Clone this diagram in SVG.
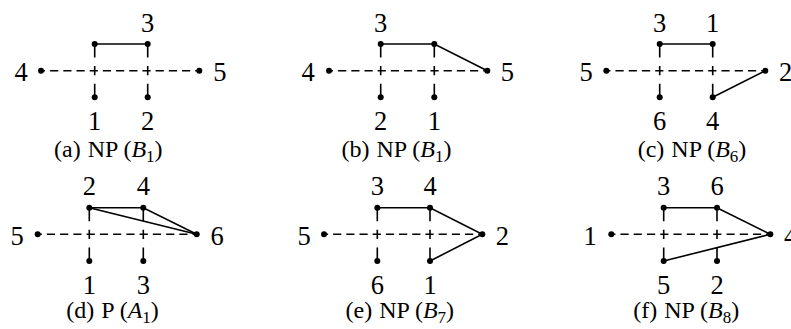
<svg xmlns="http://www.w3.org/2000/svg" width="791" height="329" viewBox="0 0 791 329">
<style>
.dot{fill:#000}
.lab{font-family:"Liberation Serif","DejaVu Serif",serif;font-size:26.5px;fill:#000;text-anchor:middle}
.cap{font-family:"Liberation Serif","DejaVu Serif",serif;font-size:24px;fill:#000;text-anchor:middle}
.sub{font-size:17px}
.h{stroke:#000;stroke-width:1.6;fill:none;stroke-dasharray:0.62 0.38;stroke-dashoffset:0.31}
.v{stroke:#000;stroke-width:1.6;fill:none;stroke-dasharray:13.5 8.5 9.3 8.5 13.5}
.e{stroke:#000;stroke-width:1.6;fill:none}
</style>
<rect width="791" height="329" fill="#fff"/>

<!-- (a) -->
<g id="panel-a">
<g id="a-connectors">
<path class="h" pathLength="12" d="M41 70.7H199.3"/>
<path class="v" d="M94.7 44V97.3"/>
<path class="v" d="M147.7 44V97.3"/>
<path class="e" d="M94.7 44H147.7"/>
</g>
<g id="a-n4"><circle class="dot" cx="41" cy="70.7" r="3"/><text class="lab" x="21" y="80.7">4</text></g>
<g id="a-n5"><circle class="dot" cx="199.3" cy="70.7" r="3"/><text class="lab" x="219.8" y="80.7">5</text></g>
<g id="a-ntl"><circle class="dot" cx="94.7" cy="44" r="3"/></g>
<g id="a-n3"><circle class="dot" cx="147.7" cy="44" r="3"/><text class="lab" x="147.7" y="31.7">3</text></g>
<g id="a-n1"><circle class="dot" cx="94.7" cy="97.3" r="3"/><text class="lab" x="94.7" y="130">1</text></g>
<g id="a-n2"><circle class="dot" cx="147.7" cy="97.3" r="3"/><text class="lab" x="147.7" y="130">2</text></g>
<text class="cap" x="108.3" y="156.7">(a)<tspan dx="7">NP (</tspan><tspan font-style="italic">B</tspan><tspan class="sub" dy="5">1</tspan><tspan dy="-5">)</tspan></text>
</g>

<!-- (b) -->
<g id="panel-b">
<g id="b-connectors">
<path class="h" pathLength="12" d="M329 70.7H487.3"/>
<path class="v" d="M380.7 44V97.3"/>
<path class="v" d="M434.3 44V97.3"/>
<path class="e" d="M380.7 44H434.3L487.3 70.7"/>
</g>
<g id="b-n4"><circle class="dot" cx="329" cy="70.7" r="3"/><text class="lab" x="308" y="80.7">4</text></g>
<g id="b-n5"><circle class="dot" cx="487.3" cy="70.7" r="3"/><text class="lab" x="507.3" y="80.7">5</text></g>
<g id="b-n3"><circle class="dot" cx="380.7" cy="44" r="3"/><text class="lab" x="380.7" y="31.7">3</text></g>
<g id="b-ntr"><circle class="dot" cx="434.3" cy="44" r="3"/></g>
<g id="b-n2"><circle class="dot" cx="380.7" cy="97.3" r="3"/><text class="lab" x="380.7" y="130">2</text></g>
<g id="b-n1"><circle class="dot" cx="434.3" cy="97.3" r="3"/><text class="lab" x="434.3" y="130">1</text></g>
<text class="cap" x="396.5" y="156.7">(b)<tspan dx="7">NP (</tspan><tspan font-style="italic">B</tspan><tspan class="sub" dy="5">1</tspan><tspan dy="-5">)</tspan></text>
</g>

<!-- (c) -->
<g id="panel-c">
<g id="c-connectors">
<path class="h" pathLength="12" d="M606.3 70.7H765.3"/>
<path class="v" d="M659.7 44V97.3"/>
<path class="v" d="M712.7 44V97.3"/>
<path class="e" d="M659.7 44H712.7"/>
<path class="e" d="M712.7 97.3L765.3 70.7"/>
</g>
<g id="c-n5"><circle class="dot" cx="606.3" cy="70.7" r="3"/><text class="lab" x="586" y="80.7">5</text></g>
<g id="c-n2"><circle class="dot" cx="765.3" cy="70.7" r="3"/><text class="lab" x="785.5" y="80.7">2</text></g>
<g id="c-n3"><circle class="dot" cx="659.7" cy="44" r="3"/><text class="lab" x="659.7" y="31.7">3</text></g>
<g id="c-n1"><circle class="dot" cx="712.7" cy="44" r="3"/><text class="lab" x="712.7" y="31.7">1</text></g>
<g id="c-n6"><circle class="dot" cx="659.7" cy="97.3" r="3"/><text class="lab" x="659.7" y="130">6</text></g>
<g id="c-n4"><circle class="dot" cx="712.7" cy="97.3" r="3"/><text class="lab" x="712.7" y="130">4</text></g>
<text class="cap" x="692" y="156.7">(c)<tspan dx="7">NP (</tspan><tspan font-style="italic">B</tspan><tspan class="sub" dy="5">6</tspan><tspan dy="-5">)</tspan></text>
</g>

<!-- (d) -->
<g id="panel-d">
<g id="d-connectors">
<path class="h" pathLength="12" d="M37.7 234.3H196.7"/>
<path class="v" d="M89.3 207.7V261"/>
<path class="v" d="M143.3 207.7V261"/>
<path class="e" d="M89.3 207.7H143.3L196.7 234.3"/>
<path class="e" d="M89.3 207.7L196.7 234.3"/>
</g>
<g id="d-n5"><circle class="dot" cx="37.7" cy="234.3" r="3"/><text class="lab" x="17" y="244.8">5</text></g>
<g id="d-n6"><circle class="dot" cx="196.7" cy="234.3" r="3"/><text class="lab" x="217" y="244.8">6</text></g>
<g id="d-n2"><circle class="dot" cx="89.3" cy="207.7" r="3"/><text class="lab" x="89.3" y="195.2">2</text></g>
<g id="d-n4"><circle class="dot" cx="143.3" cy="207.7" r="3"/><text class="lab" x="143.3" y="195.2">4</text></g>
<g id="d-n1"><circle class="dot" cx="89.3" cy="261" r="3"/><text class="lab" x="89.3" y="293.5">1</text></g>
<g id="d-n3"><circle class="dot" cx="143.3" cy="261" r="3"/><text class="lab" x="143.3" y="293.5">3</text></g>
<text class="cap" x="112.5" y="317.7">(d)<tspan dx="7">P (</tspan><tspan font-style="italic">A</tspan><tspan class="sub" dy="5">1</tspan><tspan dy="-5">)</tspan></text>
</g>

<!-- (e) -->
<g id="panel-e">
<g id="e-connectors">
<path class="h" pathLength="12" d="M324 234.3H482.3"/>
<path class="v" d="M377.3 207.7V261"/>
<path class="v" d="M430 207.7V261"/>
<path class="e" d="M377.3 207.7H430L482.3 234.3L430 261"/>
</g>
<g id="e-n5"><circle class="dot" cx="324" cy="234.3" r="3"/><text class="lab" x="304" y="244.8">5</text></g>
<g id="e-n2"><circle class="dot" cx="482.3" cy="234.3" r="3"/><text class="lab" x="502.3" y="244.8">2</text></g>
<g id="e-n3"><circle class="dot" cx="377.3" cy="207.7" r="3"/><text class="lab" x="377.3" y="195.2">3</text></g>
<g id="e-n4"><circle class="dot" cx="430" cy="207.7" r="3"/><text class="lab" x="430" y="195.2">4</text></g>
<g id="e-n6"><circle class="dot" cx="377.3" cy="261" r="3"/><text class="lab" x="377.3" y="293.5">6</text></g>
<g id="e-n1"><circle class="dot" cx="430" cy="261" r="3"/><text class="lab" x="430" y="293.5">1</text></g>
<text class="cap" x="399.8" y="317.7">(e)<tspan dx="7">NP (</tspan><tspan font-style="italic">B</tspan><tspan class="sub" dy="5">7</tspan><tspan dy="-5">)</tspan></text>
</g>

<!-- (f) -->
<g id="panel-f">
<g id="f-connectors">
<path class="h" pathLength="12" d="M611.3 234.3H770.3"/>
<path class="v" d="M663.7 207.7V261"/>
<path class="v" d="M717 207.7V261"/>
<path class="e" d="M663.7 207.7H717L770.3 234.3L663.7 261"/>
</g>
<g id="f-n1"><circle class="dot" cx="611.3" cy="234.3" r="3"/><text class="lab" x="590" y="244.8">1</text></g>
<g id="f-n4"><circle class="dot" cx="770.3" cy="234.3" r="3"/><text class="lab" x="790.5" y="244.8">4</text></g>
<g id="f-n3"><circle class="dot" cx="663.7" cy="207.7" r="3"/><text class="lab" x="663.7" y="195.2">3</text></g>
<g id="f-n6"><circle class="dot" cx="717" cy="207.7" r="3"/><text class="lab" x="717" y="195.2">6</text></g>
<g id="f-n5"><circle class="dot" cx="663.7" cy="261" r="3"/><text class="lab" x="663.7" y="293.5">5</text></g>
<g id="f-n2"><circle class="dot" cx="717" cy="261" r="3"/><text class="lab" x="717" y="293.5">2</text></g>
<text class="cap" x="686.2" y="317.7">(f)<tspan dx="7">NP (</tspan><tspan font-style="italic">B</tspan><tspan class="sub" dy="5">8</tspan><tspan dy="-5">)</tspan></text>
</g>
</svg>
